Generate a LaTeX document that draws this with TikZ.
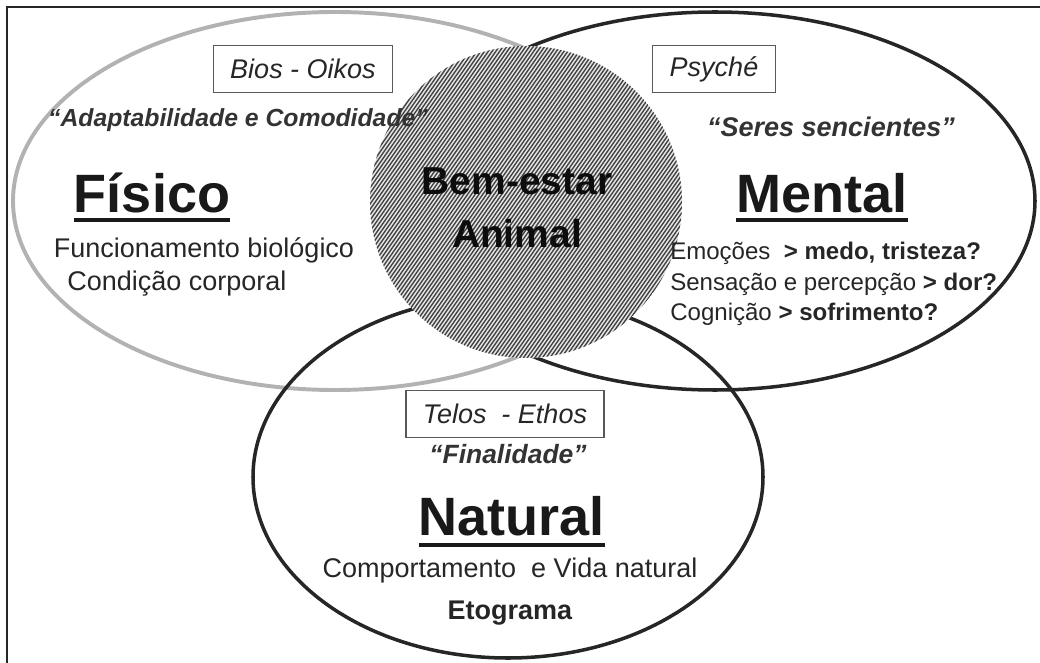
\documentclass[tikz,border=0pt]{standalone}
\usepackage{fontspec}
\setmainfont{Liberation Sans}
\usetikzlibrary{positioning}

\begin{document}
\begin{tikzpicture}[x=0.025cm, y=-0.025cm,
  moldura/.style={line width=1.4pt, black!85},
  elipse/.style={line width=2.5pt, draw=black!85},
  rotulo/.style={draw=black!65, line width=0.9pt, inner xsep=12pt, minimum height=33.4pt, font=\fontsize{19.2}{23}\selectfont\itshape, text=black!85},
  lema/.style={font=\fontsize{17.6}{22}\selectfont\bfseries\itshape, text=black!80, anchor=base, inner sep=0pt},
  titulo/.style={font=\fontsize{38.4}{46}\selectfont\bfseries, text=black!90, anchor=base, inner sep=0pt},
  centro/.style={font=\fontsize{27.7}{33}\selectfont\bfseries, text=black!95, anchor=base, inner sep=0pt},
  texto/.style={font=\fontsize{19.2}{23}\selectfont, text=black!85, anchor=base, inner sep=0pt},
  item/.style={font=\fontsize{17.1}{21}\selectfont, text=black!85, anchor=base west, inner sep=0pt},
  sublinha/.style={line width=2.8pt, black!90},
  hachura/.style={line width=0.95pt, black!75}]
\useasboundingbox (0,0) rectangle (1040,663);
\draw[moldura] (7,680) -- (7,7) -- (1060,7);

\draw[elipse, draw=black!30, line width=2.8pt] (335,201) ellipse[x radius=322, y radius=189];
\draw[elipse] (715,201) ellipse[x radius=320, y radius=189];
\draw[elipse] (508,477) ellipse[x radius=255, y radius=181];

\coordinate (disco) at (526,202);
\fill[gray!20] (disco) circle[radius=156];
\begin{scope}
\clip (disco) circle[radius=156];
\foreach \d in {-170,-166.9,...,170}
  \draw[hachura] (disco) ++(35:\d) ++(-55:180) -- ++(125:360);
\end{scope}

\node[centro] (bem) at (517,195) {Bem-estar};
\node[centro] (animal) at (517,247) {Animal};

\node[rotulo] (bios) at (303,69) {Bios - Oikos};
\node[lema] (adapt) at (238,127) {“Adaptabilidade e Comodidade”};
\node[titulo] (fisico) at (152,212) {Físico};
\draw[sublinha] ([yshift=-5.7pt]fisico.base west) -- ([yshift=-5.7pt]fisico.base east);
\node[texto] (func) at (204,258) {Funcionamento biológico};
\node[texto] (cond) at (177,290) {Condição corporal};

\node[rotulo] (psyche) at (714,69) {Psyché};
\node[lema, font=\fontsize{19.2}{23}\selectfont\bfseries\itshape] (seres) at (831,137) {“Seres sencientes”};
\node[titulo] (mental) at (822,212) {Mental};
\draw[sublinha] ([yshift=-5.7pt]mental.base west) -- ([yshift=-5.7pt]mental.base east);
\node[item] (emo) at (670,260) {Emoções \ \textbf{> medo, tristeza?}};
\node[item] (sens) at (670,290) {Sensação e percepção \textbf{> dor?}};
\node[item] (cogn) at (670,320) {Cognição \textbf{> sofrimento?}};

\node[rotulo] (telos) at (505,414) {Telos \ - Ethos};
\node[lema, font=\fontsize{18.8}{22}\selectfont\bfseries\itshape] (final) at (508,463) {“Finalidade”};
\node[titulo] (natural) at (512,535) {Natural};
\draw[sublinha] ([yshift=-7pt]natural.base west) -- ([yshift=-7pt]natural.base east);
\node[texto] (comp) at (510,577) {Comportamento \ e Vida natural};
\node[texto, font=\fontsize{19.2}{23}\selectfont\bfseries] (eto) at (510,619) {Etograma};
\end{tikzpicture}
\end{document}
